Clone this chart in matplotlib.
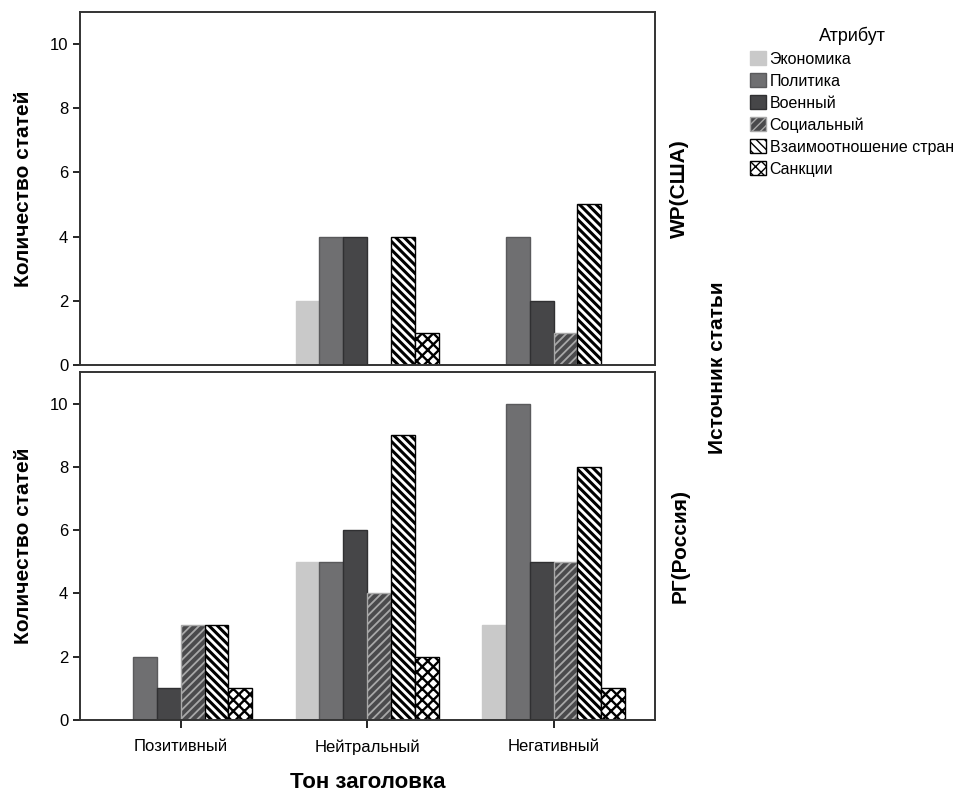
import matplotlib
matplotlib.use("Agg")
import matplotlib.pyplot as plt
import matplotlib.patches as mpatches
import numpy as np

plt.rcParams['font.family'] = ['Liberation Sans', 'DejaVu Sans']

# data
tones = ['Позитивный', 'Нейтральный', 'Негативный']
attrs = ['Экономика', 'Политика', 'Военный', 'Социальный',
         'Взаимоотношение стран', 'Санкции']
wp = {
    'Экономика': [0, 2, 0],
    'Политика': [0, 4, 4],
    'Военный': [0, 4, 2],
    'Социальный': [0, 0, 1],
    'Взаимоотношение стран': [0, 4, 5],
    'Санкции': [0, 1, 0],
}
rg = {
    'Экономика': [0, 5, 3],
    'Политика': [2, 5, 10],
    'Военный': [1, 6, 5],
    'Социальный': [3, 4, 5],
    'Взаимоотношение стран': [3, 9, 8],
    'Санкции': [1, 2, 1],
}
panels = [('WP(США)', wp), ('РГ(Россия)', rg)]

# styles: facecolor, edgecolor (also hatch colour), hatch, hatch width
styles = {
    'Экономика': ('#c9c9c9', '#c9c9c9', None, 1.0),
    'Политика': ('#6f6f71', '#5a5a5c', None, 1.0),
    'Военный': ('#464648', '#303032', None, 1.0),
    'Социальный': ('#4a4a4c', '#a8a8a8', '////', 1.3),
    'Взаимоотношение стран': ('white', 'black', '\\\\\\\\', 2.2),
    'Санкции': ('white', 'black', 'xxx', 1.7),
}

fig = plt.figure(figsize=(9.8, 7.91), dpi=100)
ax1 = fig.add_axes([0.0816, 0.5386, 0.587, 0.4464])
ax2 = fig.add_axes([0.0816, 0.0898, 0.587, 0.4399])

x = np.arange(len(tones))
w = 0.128
for ax, (name, data) in zip([ax1, ax2], panels):
    for i, a in enumerate(attrs):
        fc, ec, h, hw = styles[a]
        vals = np.array(data[a])
        pos = x + (i - 2.5) * w
        mask = vals > 0
        with plt.rc_context({'hatch.linewidth': hw}):
            ax.bar(pos[mask], vals[mask], width=w, color=fc, edgecolor=ec,
                   hatch=h, linewidth=1.0, zorder=2)
    ax.set_ylim(0, 11)
    ax.set_xlim(-0.54, 2.545)
    ax.set_yticks([0, 2, 4, 6, 8, 10])
    ax.tick_params(axis='y', labelsize=12, length=5, width=1.2)
    ax.set_ylabel('Количество статей', fontsize=15, fontweight='bold',
                  labelpad=12)
    for s in ax.spines.values():
        s.set_linewidth(1.4)
        s.set_color('#333333')
    ax.text(1.043, 0.5, name, transform=ax.transAxes, rotation=90,
            ha='center', va='center', fontsize=15, fontweight='bold')

ax1.set_xticks([])
ax2.set_xticks(x)
ax2.set_xticklabels(tones, fontsize=12)
ax2.tick_params(axis='x', length=6, width=1.2, pad=8)
ax2.set_xlabel('Тон заголовка', fontsize=16, fontweight='bold', labelpad=12)

fig.text(0.732, 0.535, 'Источник статьи', rotation=90, ha='center',
         va='center', fontsize=15, fontweight='bold')

handles = []
for a in attrs:
    fc, ec, h, hw = styles[a]
    with plt.rc_context({'hatch.linewidth': hw}):
        handles.append(mpatches.Patch(facecolor=fc, edgecolor=ec, hatch=h,
                                      label=a))
leg = fig.legend(handles=handles, loc='upper left',
                 bbox_to_anchor=(0.751, 0.985), frameon=False, fontsize=11.5,
                 title='Атрибут', title_fontsize=13, handlelength=1.0,
                 handleheight=1.0, handletextpad=0.2, labelspacing=0.4)

fig.savefig('out.png', dpi=100)
